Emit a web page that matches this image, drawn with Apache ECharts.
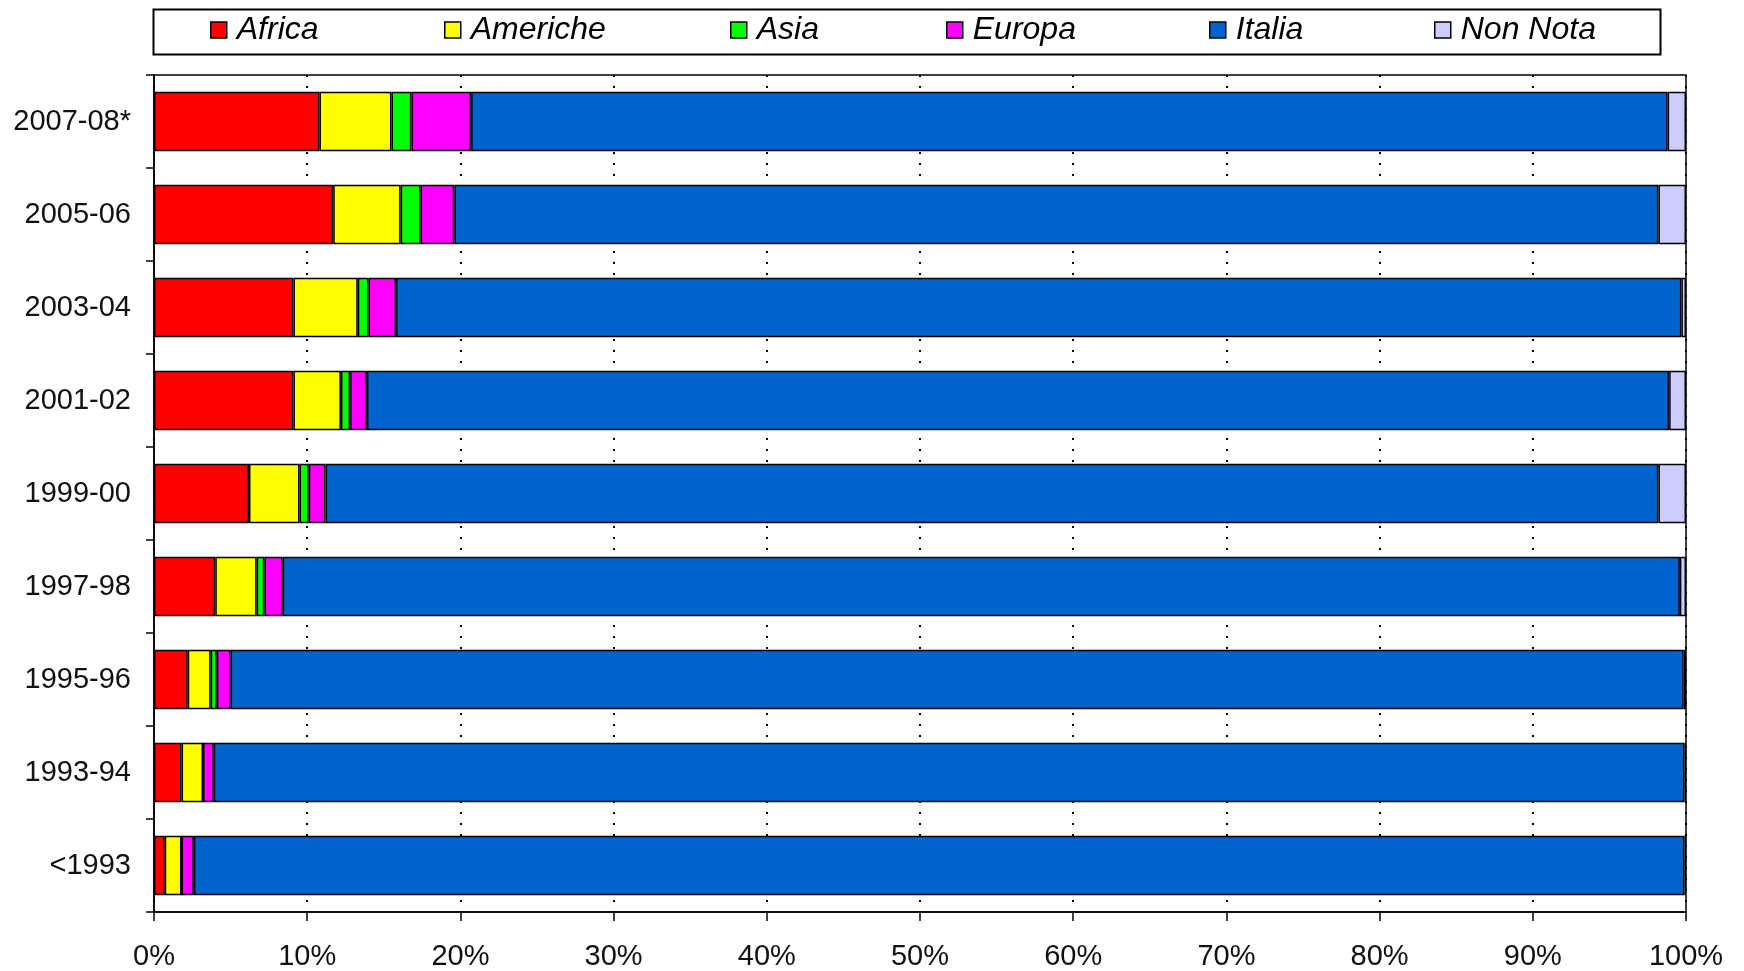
<!DOCTYPE html>
<html>
<head>
<meta charset="utf-8">
<script src="https://cdn.jsdelivr.net/npm/echarts@6/dist/echarts.min.js"></script>
<style>
html,body{margin:0;padding:0;background:#fff;}
#main{width:1744px;height:971px;}
</style>
</head>
<body>
<div id="main"></div>
<script>
const categories = ['2007-08*', '2005-06', '2003-04', '2001-02', '1999-00', '1997-98', '1995-96', '1993-94', '<1993'];
const africa   = [10.8, 11.7, 9.1, 9.1, 6.2, 4.0, 2.2, 1.8, 0.7];
const americhe = [4.7, 4.4, 4.2, 3.1, 3.3, 2.7, 1.5, 1.4, 1.1];
const asia     = [1.3, 1.3, 0.7, 0.6, 0.6, 0.5, 0.4, 0, 0];
const europa   = [3.9, 2.2, 1.8, 1.1, 1.1, 1.2, 0.9, 0.7, 0.8];
const italia   = [78.1, 78.6, 83.9, 85.0, 87.0, 91.2, 94.85, 96.0, 97.3];
const nonNota  = [1.2, 1.8, 0.3, 1.1, 1.8, 0.4, 0.15, 0.1, 0.1];
const xTicks   = [0, 10, 20, 30, 40, 50, 60, 70, 80, 90, 100];

const seriesDefs = [
  ['Africa', africa, '#FF0000'],
  ['Americhe', americhe, '#FFFF00'],
  ['Asia', asia, '#00FF00'],
  ['Europa', europa, '#FF00FF'],
  ['Italia', italia, '#0064CC'],
  ['Non Nota', nonNota, '#CCCCFF']
];
const legendLefts = [210, 444, 730, 946, 1209, 1434];

const font = 'Liberation Sans, Arial, sans-serif';
const chart = echarts.init(document.getElementById('main'));
chart.setOption({
  animation: false,
  backgroundColor: '#fff',
  graphic: [{
    type: 'rect',
    left: 151, top: 7,
    shape: { width: 1507, height: 45 },
    style: { fill: 'none', stroke: '#000', lineWidth: 2 },
    z: 0
  }],
  legend: seriesDefs.map((s, i) => ({
    left: legendLefts[i],
    top: 14,
    itemWidth: 16,
    itemHeight: 16,
    padding: 0,
    icon: 'rect',
    itemStyle: { borderColor: '#000', borderWidth: 1.5 },
    textStyle: { fontFamily: font, fontSize: 32, fontStyle: 'italic', color: '#000', lineHeight: 32, padding: [0, 0, 0, 5] },
    data: [s[0]]
  })),
  grid: {
    left: 154, right: 58, top: 75, bottom: 57,
    show: true, borderColor: '#000', borderWidth: 1.5
  },
  xAxis: {
    type: 'value',
    min: xTicks[0],
    max: xTicks[xTicks.length - 1],
    interval: 10,
    axisLine: { show: true, lineStyle: { color: '#000', width: 1.5 } },
    axisTick: { show: true, length: 9, lineStyle: { color: '#000', width: 1.5 } },
    axisLabel: { formatter: '{value}%', fontFamily: font, fontSize: 29, color: '#111', margin: 30 },
    splitLine: { show: true, lineStyle: { color: '#000', width: 2, type: [2, 9] } }
  },
  yAxis: {
    type: 'category',
    inverse: true,
    data: categories,
    axisLine: { show: true, lineStyle: { color: '#000', width: 1.5 } },
    axisTick: { show: true, length: 8, lineStyle: { color: '#000', width: 1.5 } },
    axisLabel: { fontFamily: font, fontSize: 29, color: '#111', margin: 23 }
  },
  series: seriesDefs.map(([name, data, color]) => ({
    name: name,
    type: 'bar',
    stack: 'total',
    data: data,
    barCategoryGap: '36%',
    itemStyle: { color: color, borderColor: '#000', borderWidth: 1.5 }
  }))
});
</script>
</body>
</html>
